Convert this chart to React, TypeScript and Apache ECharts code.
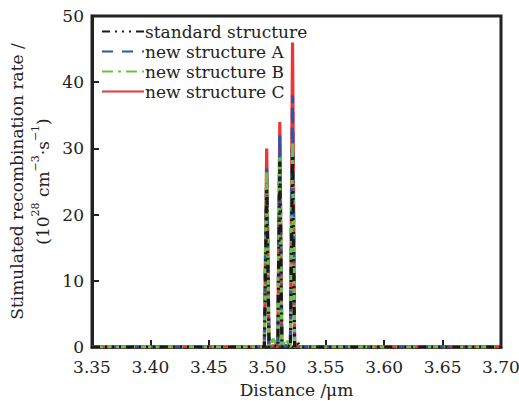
import React, { useEffect, useRef } from "react";
import * as echarts from "echarts";

const xs = [3.35, 3.4975, 3.4995, 3.5015, 3.505, 3.509, 3.5107, 3.5125, 3.516, 3.5198, 3.5216, 3.5234, 3.5255, 3.528, 3.70];
const standardVals = [0, 0, 24, 0, 0.3, 0, 28, 0, 0.3, 0, 29, 0, 0.8, 0, 0];
const newAVals = [0, 0, 27, 0, 0.2, 0, 32, 0, 0.2, 0, 38, 0, 0.2, 0, 0];
const newBVals = [0, 0, 26.5, 0, 1.2, 0, 29, 0, 1.2, 0, 31, 0, 0.2, 0, 0];
const newCVals = [0, 0, 30, 0, 0.2, 0, 34, 0, 0.2, 0, 46, 0, 0.2, 0, 0];
const seriesNames = ["standard structure", "new structure A", "new structure B", "new structure C"];
const xTicks = { min: 3.35, max: 3.7, interval: 0.05 };
const yTicks = { min: 0, max: 50, interval: 10 };

const FONT = "DejaVu Serif";
const TXT = "#222";

export default function App() {
  const ref = useRef<HTMLDivElement>(null);
  useEffect(() => {
    if (!ref.current) return;
    const chart = echarts.init(ref.current, null, { renderer: "svg" });
    const pair = (vals: number[]) => xs.map((x, i) => [x, vals[i]]);
    const mk = (name: string, vals: number[], color: string, type: any, z: number) => ({
      name,
      type: "line",
      data: pair(vals),
      showSymbol: false,
      symbol: "none",
      symbolSize: 0,
      z,
      lineStyle: { color, width: 3.2, type },
      itemStyle: { color },
    });
    chart.setOption({
      animation: false,
      textStyle: { fontFamily: FONT, color: TXT },
      grid: {
        left: 92, right: 18, top: 16, bottom: 54,
        outerBoundsMode: "none",
        containLabel: false,
        show: true, borderColor: "#222", borderWidth: 3, backgroundColor: "transparent",
      },
      legend: {
        data: seriesNames,
        orient: "vertical",
        left: 96,
        top: 18,
        itemWidth: 42,
        itemHeight: 14,
        itemGap: 3,
        itemStyle: { opacity: 0, borderWidth: 0 },
        textStyle: { fontFamily: FONT, fontSize: 17, color: TXT, padding: [0, 0, 0, -4] },
      },
      xAxis: {
        type: "value",
        min: xTicks.min,
        max: xTicks.max,
        interval: xTicks.interval,
        name: "Distance /μm",
        nameLocation: "middle",
        nameGap: 34,
        nameTextStyle: { fontFamily: FONT, fontSize: 17, color: TXT },
        axisLine: { show: true, lineStyle: { color: "#222", width: 3 } },
        axisTick: { show: true, inside: true, length: 7, lineStyle: { color: "#222", width: 2 } },
        axisLabel: { fontFamily: FONT, fontSize: 17, color: TXT, margin: 11, formatter: (v: number) => v.toFixed(2) },
        splitLine: { show: false },
      },
      yAxis: {
        type: "value",
        min: yTicks.min,
        max: yTicks.max,
        interval: yTicks.interval,
        name: "{a|Stimulated recombination rate /}\n{a|(10}{s|28}{a| cm}{s|−3}{a|·s}{s|−1}{a|)}",
        nameLocation: "middle",
        nameGap: 36,
        nameMoveOverlap: false,
        nameRotate: 90,
        nameTextStyle: {
          fontFamily: FONT,
          color: TXT,
          lineHeight: 26,
          rich: {
            a: { fontFamily: FONT, fontSize: 17, color: TXT, lineHeight: 26 },
            s: { fontFamily: FONT, fontSize: 11, color: TXT, verticalAlign: "top", lineHeight: 18, padding: [0, 0, 8, 0] },
          },
        },
        axisLine: { show: true, lineStyle: { color: "#222", width: 3 } },
        axisTick: { show: true, inside: true, length: 7, lineStyle: { color: "#222", width: 2 } },
        axisLabel: { fontFamily: FONT, fontSize: 17, color: TXT, margin: 8 },
        splitLine: { show: false },
      },
      series: [
        mk(seriesNames[3], newCVals, "#ee3535", "solid", 2),
        mk(seriesNames[1], newAVals, "#2f55a8", [11, 9], 3),
        mk(seriesNames[2], newBVals, "#6cc04a", [11, 5, 3, 5], 4),
        mk(seriesNames[0], standardVals, "#1a1a1a", [8, 5, 2, 5, 2, 5, 2, 5], 5),
      ],
    });
    return () => chart.dispose();
  }, []);
  return <div ref={ref} style={{ width: 519, height: 401, position: "absolute", left: 0, top: 0 }} />;
}
